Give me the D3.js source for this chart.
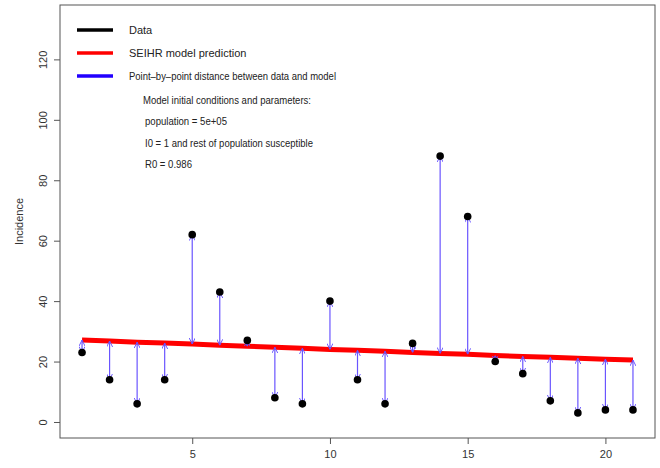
<!DOCTYPE html>
<html>
<head>
<meta charset="utf-8">
<script src="https://cdn.jsdelivr.net/npm/d3@7"></script>
<style>
body{margin:0;background:#fff;}
text{font-family:"Liberation Sans",Arial,sans-serif;}
</style>
</head>
<body>
<div id="chart"></div>
<script>
// days and observed incidence
let days=[1,2,3,4,5,6,7,8,9,10,11,12,13,14,15,16,17,18,19,20,21];
let incidence=[23,14,6,14,62,43,27,8,6,40,14,6,26,88,68,20,16,7,3,4,4];
// SEIHR model prediction
let model=[27.1,26.8,26.4,26.1,25.8,25.4,25.1,24.7,24.4,24.0,23.7,23.4,23.0,22.7,22.4,22.0,21.7,21.4,21.1,20.8,20.5];
let xTicks=[5,10,15,20];
let yTicks=[0,20,40,60,80,100,120];
let legendLabels=['Data','SEIHR model prediction','Point\u2013by\u2013point distance between data and model'];
let legendColors=['#000','#ff0000','#2200ff'];
let noteLines=['Model initial conditions and parameters:','population = 5e+05','I0 = 1 and rest of population susceptible','R0 = 0.986'];

let width=660,height=468;
let mLeft=60,mRight=655,mTop=5,mBottom=438;

let svg=d3.select('#chart').append('svg').attr('width',width).attr('height',height);

let x=d3.scaleLinear().domain([0.2,21.8]).range([mLeft,mRight]);
let y=d3.scaleLinear().domain([-5.3,138]).range([mBottom,mTop]);

// box
svg.append('rect').attr('x',mLeft).attr('y',mTop).attr('width',mRight-mLeft).attr('height',mBottom-mTop)
  .attr('fill','none').attr('stroke','#555').attr('stroke-width',1);

// axes
let xAxis=svg.append('g').attr('transform','translate(0,'+mBottom+')')
  .call(d3.axisBottom(x).tickValues(xTicks).tickSize(6).tickPadding(6).tickFormat(d3.format('d')));
let yAxis=svg.append('g').attr('transform','translate('+mLeft+',0)')
  .call(d3.axisLeft(y).tickValues(yTicks).tickSize(6).tickFormat(d3.format('d')));
[xAxis,yAxis].forEach(a=>{
  a.select('.domain').remove();
  a.selectAll('line').attr('stroke','#555');
  a.selectAll('text').attr('fill','#333').attr('font-size','11px').attr('font-family','"Liberation Sans",Arial,sans-serif');
});
yAxis.selectAll('.tick text').attr('text-anchor','middle')
  .attr('x',0).attr('y',4).attr('dy',null)
  .attr('transform','translate(-17,0) rotate(-90)');

svg.append('text').attr('transform','translate(23,'+((mTop+mBottom)/2)+') rotate(-90)')
  .attr('text-anchor','middle').attr('font-size','11px').attr('fill','#333').text('Incidence');

// arrowheads
let defs=svg.append('defs');
defs.append('marker').attr('id','ah').attr('viewBox','0 0 10 10').attr('refX',10).attr('refY',5)
  .attr('markerWidth',6).attr('markerHeight',6).attr('markerUnits','userSpaceOnUse').attr('orient','auto-start-reverse')
  .append('path').attr('d','M0,0L10,5L0,10').attr('fill','none').attr('stroke','#6a55ff').attr('stroke-width',1.6);

// model line
let line=d3.line().x((d,i)=>x(days[i])).y(d=>y(d));
svg.append('path').datum(model).attr('d',line).attr('fill','none').attr('stroke','#ff0000').attr('stroke-width',5);

// distance arrows
svg.selectAll('.dist').data(days).enter().append('line').attr('class','dist')
  .attr('x1',d=>x(d)).attr('x2',d=>x(d))
  .attr('y1',(d,i)=>y(incidence[i])).attr('y2',(d,i)=>y(model[i]))
  .attr('stroke','#6a55ff').attr('stroke-width',1.2)
  .attr('marker-start','url(#ah)').attr('marker-end','url(#ah)');

// data points
svg.selectAll('.pt').data(days).enter().append('circle').attr('class','pt')
  .attr('cx',d=>x(d)).attr('cy',(d,i)=>y(incidence[i])).attr('r',3.8).attr('fill','#000');

// legend
let legY=[30,53,76];
legendLabels.forEach((t,i)=>{
  svg.append('line').attr('x1',77).attr('x2',113).attr('y1',legY[i]).attr('y2',legY[i])
    .attr('stroke',legendColors[i]).attr('stroke-width',3.5);
  let lt=svg.append('text').attr('x',129).attr('y',legY[i]+4).attr('font-size','11px').attr('fill','#222').text(t);
  if(i==2) lt.attr('textLength',207).attr('lengthAdjust','spacingAndGlyphs');
});
let noteX=[143,145,145,145],noteY=[104,125,147,168],noteW=[168,82,168,47];
noteLines.forEach((t,i)=>{
  svg.append('text').attr('x',noteX[i]).attr('y',noteY[i]).attr('font-size','11px').attr('fill','#222')
    .attr('textLength',noteW[i]).attr('lengthAdjust','spacingAndGlyphs').text(t);
});
</script>
</body>
</html>
